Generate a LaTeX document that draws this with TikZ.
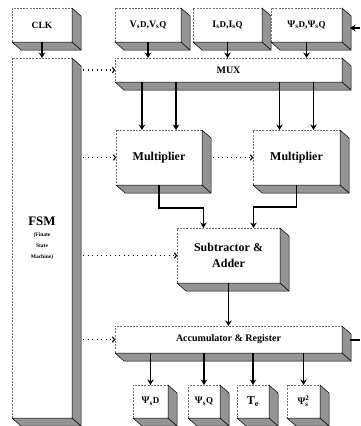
\documentclass[tikz,border=0pt]{standalone}
\usepackage{fontspec}
\setmainfont{Liberation Serif}
\usetikzlibrary{calc,arrows.meta}
\tikzset{
  face/.style={draw=black!55, line width=0.4pt, dash pattern=on 2pt off 1.2pt, fill=white,
    inner sep=0pt, outer sep=0pt, align=center, font=\bfseries\fontsize{10}{12}\selectfont},
  slab/.style={fill=black!42, draw=black, line width=0.5pt},
  crease/.style={draw=black, line width=0.6pt},
  arr/.style={line width=1.1pt, -{Stealth[length=5.5pt,width=6.5pt]}},
  wire/.style={line width=1.1pt},
  dotarr/.style={line width=1.1pt, dash pattern=on 1.3pt off 3.2pt, -{To[length=3pt,width=6pt]}},
}
\newcommand\mkbox[7][]{%
  \node[face, minimum width={(#5-#3)*1pt}, minimum height={(#6-#4)*1pt}, #1] (#2) at ({(#3+#5)/2},{(#4+#6)/2}) {#7};
  \filldraw[slab] (#2.south west) -- (#2.south east) -- (#2.north east) -- ($(#2.north east)+(9,8)$) -- ($(#2.south east)+(9,8)$) -- ($(#2.south west)+(9,8)$) -- cycle;
  \draw[crease] (#2.south east) -- ($(#2.south east)+(9,8)$);
}
\begin{document}
\begin{tikzpicture}[x=1pt,y=-1pt]
\useasboundingbox (0,0) rectangle (360,426);
\fill[white] (0,0) rectangle (360,426);
% boxes
\mkbox[font=\bfseries\fontsize{9.5}{11}\selectfont]{clk}{12}{8}{72}{42}{CLK}
\mkbox{fsm}{12}{58}{72}{418}{{\fontsize{13}{14}\selectfont FSM}\\[-1pt]{\fontsize{5.5}{7}\selectfont (Finate}\\[-1pt]{\fontsize{5.5}{7}\selectfont State}\\[-1pt]{\fontsize{5.5}{7}\selectfont Machine)}}
\mkbox{vs}{115}{8}{181}{42}{V\textsubscript{s}{\small D},V\textsubscript{s}{\small Q}}
\mkbox{is}{193}{8}{262}{42}{I\textsubscript{s}{\small D},I\textsubscript{s}{\small Q}}
\mkbox{psi}{271}{8}{342}{42}{Ψ\textsubscript{s}{\small D},Ψ\textsubscript{s}{\small Q}}
\mkbox{mux}{115}{58}{342}{82}{MUX}
\mkbox[font=\bfseries\fontsize{12}{14}\selectfont]{m1}{116}{130}{202}{185}{Multiplier}
\mkbox[font=\bfseries\fontsize{12}{14}\selectfont]{m2}{253}{130}{340}{185}{Multiplier}
\mkbox[font=\bfseries\fontsize{12}{16}\selectfont]{sub}{177}{228}{280}{283}{Subtractor \&\\Adder}
\mkbox{acc}{115}{326}{342}{353}{Accumulator \& Register}
\mkbox{o1}{133}{385}{168}{418}{Ψ\textsubscript{s}{\small D}}
\mkbox{o2}{188}{385}{220}{418}{Ψ\textsubscript{s}{\small Q}}
\mkbox[font=\bfseries\fontsize{12}{12}\selectfont]{o3}{237}{385}{269}{418}{T\textsubscript{e}}
\mkbox{o4}{287}{385}{320}{418}{Ψ$^{\mathbf{2}}_{\mathbf{s}}$}
% solid arrows
\draw[arr] (clk.south) -- (clk.south |- fsm.north);
\draw[arr] (vs.south) -- (vs.south |- mux.north);
\draw[arr] (is.south) -- (is.south |- mux.north);
\draw[arr] (psi.south) -- (psi.south |- mux.north);
\draw[arr] ([xshift=-17pt]m1.north |- mux.south) -- ([xshift=-17pt]m1.north);
\draw[arr] ([xshift=17pt]m1.north |- mux.south) -- ([xshift=17pt]m1.north);
\draw[arr] ([xshift=-17pt]m2.north |- mux.south) -- ([xshift=-17pt]m2.north);
\draw[arr] ([xshift=17pt]m2.north |- mux.south) -- ([xshift=17pt]m2.north);
\draw[arr] (m1.south) -- ++(0,23) -| ([xshift=-25pt]sub.north);
\draw[arr] (m2.south) -- ++(0,22) -| ([xshift=25pt]sub.north);
\draw[arr] (sub.south) -- (sub.south |- acc.north);
\draw[arr] (o1.north |- acc.south) -- (o1.north);
\draw[arr] (o2.north |- acc.south) -- (o2.north);
\draw[arr] (o3.north |- acc.south) -- (o3.north);
\draw[arr] (o4.north |- acc.south) -- (o4.north);
% dotted arrows
\draw[dotarr, shorten <=11pt] (fsm.east |- mux.west) -- (mux.west);
\draw[dotarr, shorten <=11pt] (fsm.east |- m1.west) -- (m1.west);
\draw[dotarr, shorten <=11pt] (m1.east) -- (m2.west);
\draw[dotarr, shorten <=11pt] (fsm.east |- sub.west) -- (sub.west);
\draw[dotarr, shorten <=11pt] (fsm.east |- acc.west) -- (acc.west);
% feedback
\coordinate (fbA) at (360,340);
\coordinate (fbB) at (360,28);
\draw[wire, shorten <=8pt] (acc.east |- fbA) -- (fbA);
\draw[arr, shorten >=8pt] (fbB) -- (fbB -| psi.east);
\end{tikzpicture}
\end{document}
